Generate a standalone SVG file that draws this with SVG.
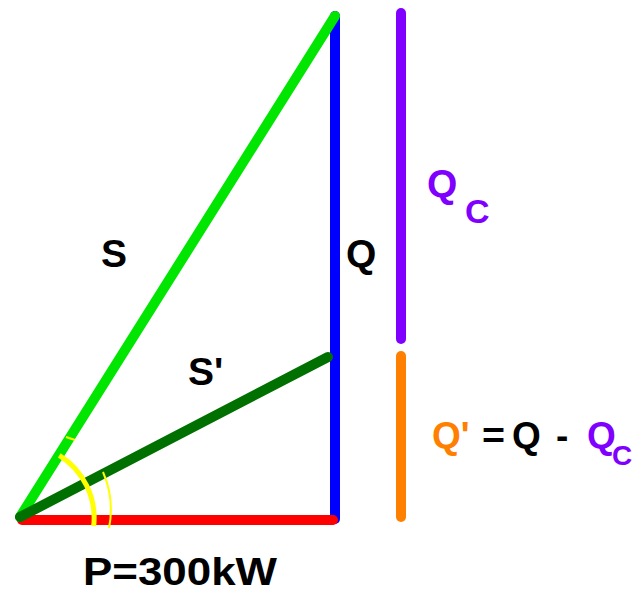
<svg xmlns="http://www.w3.org/2000/svg" width="643" height="593" viewBox="0 0 643 593">
<style>
.ln{fill:none;stroke-linecap:round;stroke-width:10}
.t{font-family:"Liberation Sans",Arial,sans-serif;font-weight:bold;font-size:39px;fill:#000}
.arc{fill:none;stroke:#ffff00}
</style>
<rect width="643" height="593" fill="#fff"/>
<g id="connectors">
<line id="Q" class="ln" x1="335" y1="16" x2="335" y2="519" stroke="#0000ff" stroke-width="11"/>
<line id="P" class="ln" x1="22" y1="520" x2="333" y2="520" stroke="#ff0000"/>
<line id="S" class="ln" x1="20" y1="517" x2="335" y2="16" stroke="#00e600" stroke-width="9"/>
<line id="Sp" class="ln" x1="20" y1="517" x2="328" y2="357" stroke="#007000"/>
<line id="Qc" class="ln" x1="401" y1="13" x2="401" y2="339" stroke="#8000ff"/>
<line id="Qp" class="ln" x1="401" y1="356" x2="401" y2="517" stroke="#ff8000"/>
</g>
<g id="angles">
<path class="arc" stroke-width="5" d="M 59.3 455.3 A 74 74 0 0 1 93.7 526"/>
<path class="arc" stroke-width="2" d="M 103 472 A 94 94 0 0 1 109 528"/>
<path class="arc" stroke-width="2" d="M 66 437 L 75 440"/>
</g>
<g id="label-S"><text class="t" x="101" y="267">S</text></g>
<g id="label-Q"><text class="t" x="346" y="267">Q</text></g>
<g id="label-Sp"><text class="t" x="188" y="385">S'</text></g>
<g id="label-Qc"><text class="t" x="427" y="197" style="fill:#8000ff">Q</text><text class="t" x="465" y="223" style="fill:#8000ff;font-size:34px">C</text></g>
<g id="label-Qp"><text class="t" y="448" style="font-size:37px"><tspan x="432" style="fill:#ff8000">Q'</tspan><tspan x="482" textLength="23" lengthAdjust="spacingAndGlyphs">=</tspan><tspan x="512">Q</tspan><tspan x="556">-</tspan><tspan x="587" style="fill:#8000ff">Q</tspan><tspan x="612" y="465" style="fill:#8000ff;font-size:28px">C</tspan></text></g>
<g id="label-P"><text class="t" x="83" y="585" style="font-size:38px" textLength="194" lengthAdjust="spacingAndGlyphs">P=300kW</text></g>
</svg>
